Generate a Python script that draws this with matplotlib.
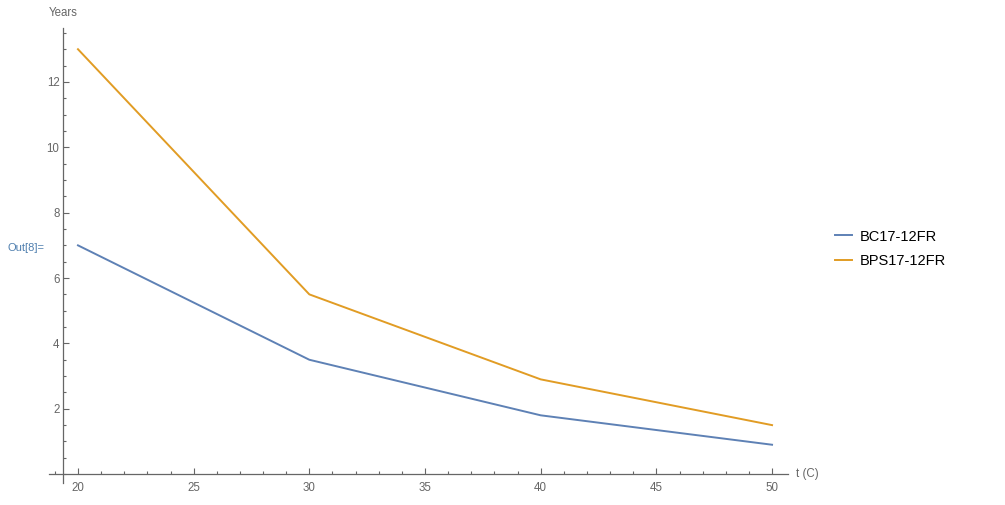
import matplotlib.pyplot as plt
from matplotlib.ticker import MultipleLocator

plt.rcParams["font.family"] = ["Liberation Sans", "DejaVu Sans"]

temps = [20, 30, 40, 50]
bc17_years = [7.0, 3.5, 1.8, 0.9]
bps17_years = [13.0, 5.5, 2.9, 1.5]
series_labels = ["BC17-12FR", "BPS17-12FR"]
series_colors = ["#5E81B5", "#E19C24"]

axis_gray = "#666666"

fig = plt.figure(figsize=(10.05, 5.05), dpi=100)
ax = fig.add_axes([0.0488, 0.0436, 0.7353, 0.901])

for vals, label, color in zip([bc17_years, bps17_years], series_labels, series_colors):
    ax.plot(temps, vals, color=color, lw=1.4, label=label)

ax.set_xlim(18.75, 50.69)
ax.set_ylim(-0.27, 13.65)

# Mathematica-style axes crossing near the origin
ax.spines["top"].set_visible(False)
ax.spines["right"].set_visible(False)
ax.spines["left"].set_position(("data", 19.35))
ax.spines["bottom"].set_position(("data", 0))
for side in ["left", "bottom"]:
    ax.spines[side].set_color(axis_gray)
    ax.spines[side].set_linewidth(0.9)

ax.xaxis.set_major_locator(MultipleLocator(5))
ax.xaxis.set_minor_locator(MultipleLocator(1))
ax.yaxis.set_major_locator(MultipleLocator(2))
ax.yaxis.set_minor_locator(MultipleLocator(0.5))
ax.set_yticks([2, 4, 6, 8, 10, 12])

ax.tick_params(which="both", direction="in", color=axis_gray, width=0.8,
               labelcolor=axis_gray, labelsize=8.3)
ax.tick_params(which="major", length=4)
ax.tick_params(which="minor", length=2.3)
ax.tick_params(axis="x", which="major", pad=6)
ax.tick_params(axis="y", which="major", pad=2.5)
ax.patch.set_alpha(0)

fig.text(49 / 1005, 1 - 13 / 505, "Years", color=axis_gray, fontsize=8.3,
         ha="left", va="center")
fig.text(796 / 1005, 1 - 474 / 505, "t (C)", color=axis_gray, fontsize=8.3,
         ha="left", va="center")
fig.text(7 / 1005, 1 - 248 / 505, "Out[8]=", color="#4F7FAF", fontsize=8,
         ha="left", va="center")

fig.legend(loc="center left", bbox_to_anchor=(828 / 1005, 1 - 249 / 505),
           frameon=False, fontsize=10.5, handlelength=1.15, handletextpad=0.5,
           labelspacing=0.75, borderpad=0)

fig.savefig("out.png", dpi=100)
